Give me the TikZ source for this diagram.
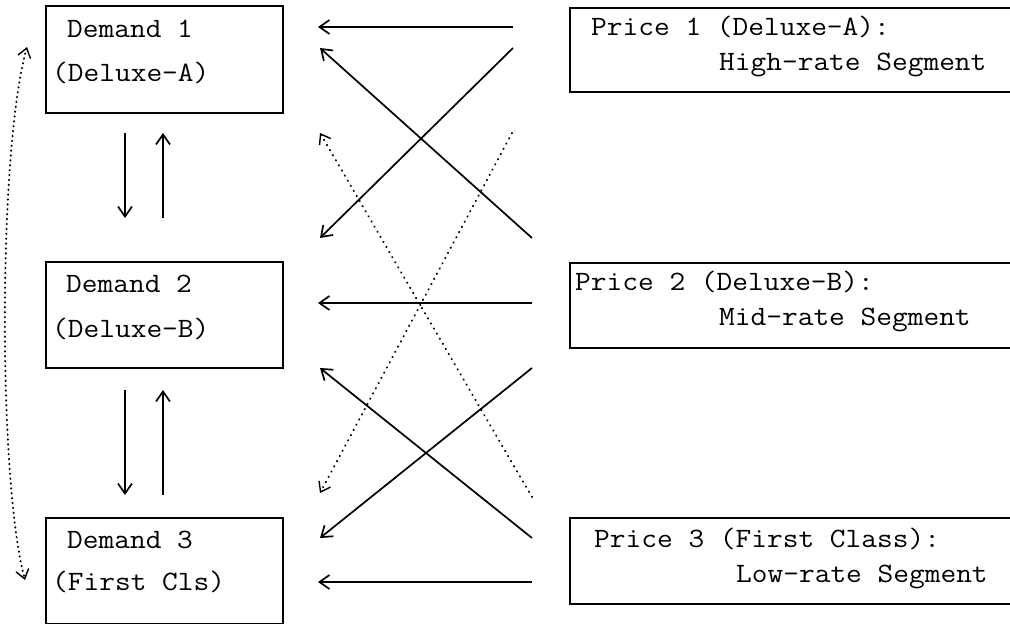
\documentclass[tikz,border=0pt]{standalone}
\usepackage{graphicx}
\usetikzlibrary{arrows.meta}
\newcommand{\hsx}[1]{\scalebox{1.09}[1]{#1}}
\begin{document}
\begin{tikzpicture}[x=1pt,y=-1pt,
  box/.style={draw, line width=2pt, rectangle, inner sep=0pt, anchor=north west},
  lbl/.style={anchor=base west, inner sep=0pt, font=\fontsize{28}{34}\selectfont\ttfamily},
  conn/.style={line width=1.7pt, -{Straight Barb[length=10pt,width=14pt]}},
  dots/.style={line width=2pt, line cap=round, dash pattern=on 0.4pt off 5.5pt, -{Straight Barb[length=9pt,width=13pt,line width=1.4pt]}},
]
\useasboundingbox (0,0) rectangle (1010,624);
\clip (0,0) rectangle (1010,624);
\fill[white] (0,0) rectangle (1010,624);

% demand boxes
\node[box, minimum width=237pt, minimum height=107pt] (d1) at (45,5) {};
\node[box, minimum width=237pt, minimum height=106pt] (d2) at (45,261) {};
\node[box, minimum width=237pt, minimum height=106pt] (d3) at (45,517) {};
% price boxes (cut at the right edge)
\node[box, minimum width=460pt, minimum height=84pt] (p1) at (569,7) {};
\node[box, minimum width=460pt, minimum height=85pt] (p2) at (569,262) {};
\node[box, minimum width=460pt, minimum height=86pt] (p3) at (569,517) {};

% texts
\node[lbl] (d1a) at (67,37) {\hsx{Demand 1}};
\node[lbl] (d1b) at (52,81) {\hsx{(Deluxe-A)}};
\node[lbl] (d2a) at (66,292) {\hsx{Demand 2}};
\node[lbl] (d2b) at (52,337) {\hsx{(Deluxe-B)}};
\node[lbl] (d3a) at (67,548) {\hsx{Demand 3}};
\node[lbl] (d3b) at (52,590) {\hsx{(First Cls)}};

\node[lbl] (p1a) at (591,35) {\hsx{Price 1 (Deluxe-A):}};
\node[lbl] (p1b) at (719,70) {\hsx{High-rate Segment}};
\node[lbl] (p2a) at (575,290) {\hsx{Price 2 (Deluxe-B):}};
\node[lbl] (p2b) at (719,325) {\hsx{Mid-rate Segment}};
\node[lbl] (p3a) at (594,547) {\hsx{Price 3 (First Class):}};
\node[lbl] (p3b) at (736,582) {\hsx{Low-rate Segment}};

% connector end points
\coordinate (h1s) at (513,27);  \coordinate (h1e) at (318,27);
\coordinate (h2s) at (532,303); \coordinate (h2e) at (318,303);
\coordinate (h3s) at (532,582); \coordinate (h3e) at (318,582);
\coordinate (xas) at (513,48);  \coordinate (xae) at (320,238);
\coordinate (xbs) at (532,238); \coordinate (xbe) at (320,48);
\coordinate (xcs) at (532,538); \coordinate (xce) at (320,368);
\coordinate (xds) at (532,368); \coordinate (xde) at (320,538);
\coordinate (das) at (512,133); \coordinate (dae) at (320,493);
\coordinate (dbs) at (532,497); \coordinate (dbe) at (320,133);
\coordinate (v1s) at (125,133); \coordinate (v1e) at (125,218);
\coordinate (v2s) at (163,218); \coordinate (v2e) at (163,133);
\coordinate (v3s) at (125,390); \coordinate (v3e) at (125,495);
\coordinate (v4s) at (163,495); \coordinate (v4e) at (163,390);
\coordinate (lct) at (27,47);   \coordinate (lcb) at (25,580);

% horizontal arrows
\draw[conn] (h1s) -- (h1e);
\draw[conn] (h2s) -- (h2e);
\draw[conn] (h3s) -- (h3e);
% crossing arrows
\draw[conn] (xas) -- (xae);
\draw[conn] (xbs) -- (xbe);
\draw[conn] (xcs) -- (xce);
\draw[conn] (xds) -- (xde);
% dotted crossing arrows
\draw[dots] (das) -- (dae);
\draw[dots] (dbs) -- (dbe);
% vertical arrows
\draw[conn] (v1s) -- (v1e);
\draw[conn] (v2s) -- (v2e);
\draw[conn] (v3s) -- (v3e);
\draw[conn] (v4s) -- (v4e);
% left dotted curve
\draw[dots, dash pattern=on 0.4pt off 4.5pt,
  {Straight Barb[length=9pt,width=13pt,line width=1.4pt]}-{Straight Barb[length=9pt,width=13pt,line width=1.4pt]}]
  (lct) .. controls (-2,150) and (-2,480) .. (lcb);
\end{tikzpicture}
\end{document}
